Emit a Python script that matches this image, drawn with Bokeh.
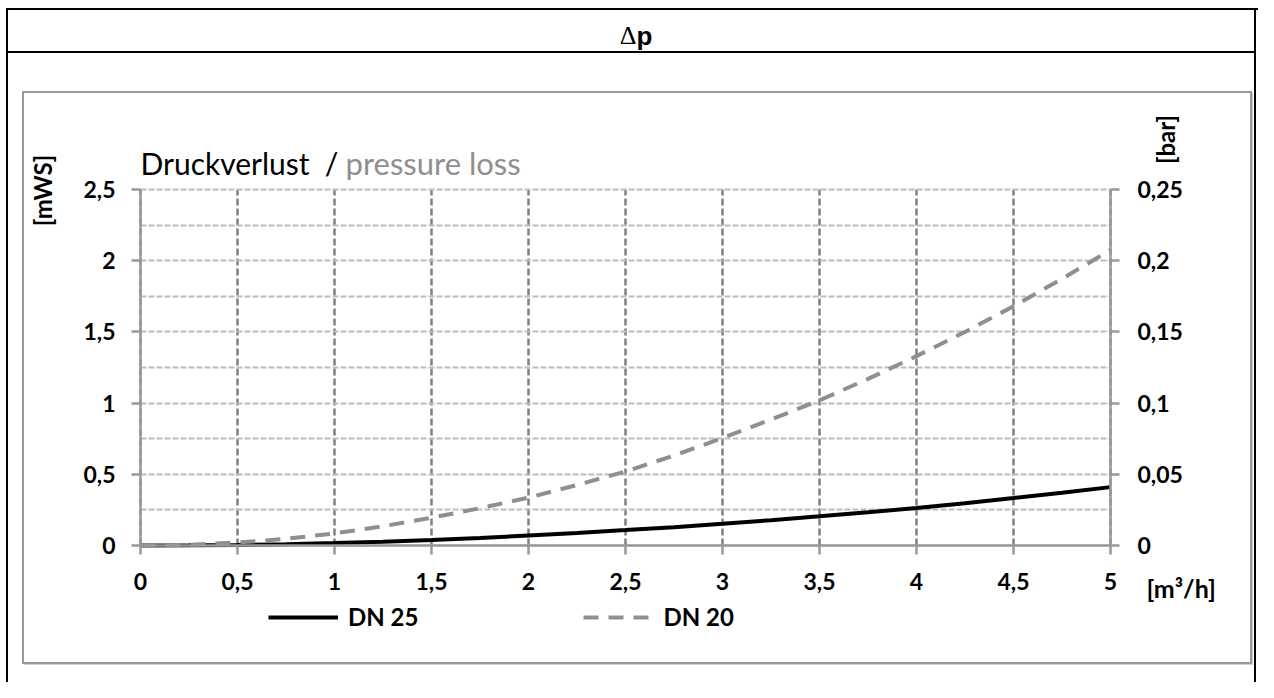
from bokeh.plotting import figure
from bokeh.models import (Range1d, LinearAxis, FixedTicker, SingleIntervalTicker, Label,
                          Legend, LegendItem)
from bokeh.embed import file_html
from bokeh.resources import INLINE

# ---- data ----
flow = [0, 0.25, 0.5, 0.75, 1, 1.25, 1.5, 1.75, 2, 2.25, 2.5, 2.75, 3, 3.25, 3.5,
        3.75, 4, 4.25, 4.5, 4.75, 5]
dn25 = [0, 0.001, 0.004, 0.009, 0.017, 0.026, 0.038, 0.052, 0.07, 0.088, 0.108, 0.129,
        0.152, 0.178, 0.205, 0.233, 0.263, 0.297, 0.333, 0.37, 0.41]
dn20 = [0, 0.005, 0.021, 0.047, 0.085, 0.135, 0.195, 0.262, 0.336, 0.425, 0.52, 0.632,
        0.755, 0.885, 1.02, 1.17, 1.33, 1.5, 1.68, 1.873, 2.075]

x_ticks = [0, 0.5, 1, 1.5, 2, 2.5, 3, 3.5, 4, 4.5, 5]
x_labels = ["0", "0,5", "1", "1,5", "2", "2,5", "3", "3,5", "4", "4,5", "5"]
yl_ticks = [0, 0.5, 1, 1.5, 2, 2.5]
yl_labels = ["0", "0,5", "1", "1,5", "2", "2,5"]
yr_ticks = [0, 0.05, 0.1, 0.15, 0.2, 0.25]
yr_labels = ["0", "0,05", "0,1", "0,15", "0,2", "0,25"]
series_names = ["DN 25", "DN 20"]

X_MAX, Y_MAX, BAR_MAX = 5, 2.5, 0.25

FONT = "Lato"
AX = "#999999"

W, H = 1258, 682
PL, PR, PT, PB = 140, 1110, 189, 545   # data area in canvas pixels

# the frame covers the whole canvas; map the data area onto its pixel box
xs = X_MAX / (PR - PL)
ys = Y_MAX / (PB - PT)
x_range = Range1d(-PL * xs, X_MAX + (W - PR) * xs)
y_range = Range1d(-(H - PB) * ys, Y_MAX + PT * ys)
bar_range = Range1d(y_range.start * BAR_MAX / Y_MAX, y_range.end * BAR_MAX / Y_MAX)

# page decoration: outer black frame, title divider, grey chart box (CSS layers)
rects = [  # (x, y, w, h, colour)
    (6, 8, 2, 700, "#000"), (6, 8, 1260, 2, "#000"), (1254, 8, 2, 700, "#000"),
    (6, 51, 1250, 2, "#000"),
    (22, 91, 2, 573, "#9a9a9a"), (22, 91, 1230, 2, "#9a9a9a"),
    (1250, 91, 2, 573, "#9a9a9a"), (22, 662, 1230, 2, "#9a9a9a"),
    (1252, 93, 1, 572, "#d0d0d0"), (24, 664, 1229, 1, "#d0d0d0"),
]
styles = {
    "background-image": ", ".join(f"linear-gradient({c},{c})" for *_, c in rects),
    "background-size": ", ".join(f"{w}px {h}px" for _, _, w, h, _ in rects),
    "background-position": ", ".join(f"{x}px {y}px" for x, y, *_ in rects),
    "background-repeat": "no-repeat",
}

p = figure(width=W, height=H, output_backend="svg", toolbar_location=None,
           x_range=x_range, y_range=y_range,
           min_border_left=0, min_border_right=0, min_border_top=0, min_border_bottom=0,
           x_axis_location=None, y_axis_location=None, styles=styles)
p.outline_line_color = None
p.background_fill_alpha = 0
p.border_fill_alpha = 0
p.extra_y_ranges = {"bar": bar_range}

def style_axis(ax, ticks, labels, standoff):
    ax.ticker = FixedTicker(ticks=ticks)
    ax.major_label_overrides = {t: l for t, l in zip(ticks, labels)}
    ax.axis_line_color = AX
    ax.axis_line_width = 2.5
    ax.major_tick_line_color = AX
    ax.major_tick_line_width = 2.5
    ax.major_tick_out = 9
    ax.major_tick_in = 0
    ax.minor_tick_line_color = None
    ax.major_label_text_font = FONT
    ax.major_label_text_font_style = "bold"
    ax.major_label_text_font_size = "23px"
    ax.major_label_text_color = "black"
    ax.major_label_standoff = standoff

xax = LinearAxis(fixed_location=0, bounds=(0, X_MAX))
style_axis(xax, x_ticks, x_labels, 18)
p.add_layout(xax, "below")
lax = LinearAxis(fixed_location=0, bounds=(0, Y_MAX))
style_axis(lax, yl_ticks, yl_labels, 16)
p.add_layout(lax, "left")
rax = LinearAxis(y_range_name="bar", fixed_location=X_MAX, bounds=(0, BAR_MAX))
style_axis(rax, yr_ticks, yr_labels, 18)
p.add_layout(rax, "right")

# grids
p.xgrid.ticker = SingleIntervalTicker(interval=0.5)
p.xgrid.bounds = (0, X_MAX)
p.xgrid.cross_bounds = (0, Y_MAX)
p.xgrid.grid_line_color = "#808080"
p.xgrid.grid_line_width = 2.5
p.xgrid.grid_line_dash = "7 3"
p.ygrid.ticker = SingleIntervalTicker(interval=0.25)
p.ygrid.bounds = (0, Y_MAX)
p.ygrid.cross_bounds = (0, X_MAX)
p.ygrid.grid_line_color = "#bdbdbd"
p.ygrid.grid_line_width = 2
p.ygrid.grid_line_dash = "6 2"

# lines
r25 = p.line(flow, dn25, line_color="black", line_width=4)
r20 = p.line(flow, dn20, line_color="#8f8f8f", line_width=4, line_dash="15 10")

legend = Legend(items=[LegendItem(label=series_names[0], renderers=[r25]),
                       LegendItem(label=series_names[1], renderers=[r20])],
                orientation="horizontal", location=(268, 51),
                glyph_width=70, label_standoff=10, spacing=165,
                padding=0, margin=0, border_line_color=None,
                background_fill_alpha=0,
                label_text_font=FONT, label_text_font_style="bold",
                label_text_font_size="24px", label_text_color="black")
p.add_layout(legend)

def clabel(x, y, text, size, color="black", style="normal", align="left",
           baseline="alphabetic", angle=0, font=FONT):
    p.add_layout(Label(x=x, y=y, x_units="canvas", y_units="canvas", text=text,
                       text_font=font, text_font_size=size, text_color=color,
                       text_font_style=style, text_align=align,
                       text_baseline=baseline, angle=angle))

clabel(636, 35, "Δ", "26px", font="Liberation Serif", align="right")
clabel(636, 35, "p", "26px", style="bold", font="Liberation Sans")
clabel(140, 162, "Druckverlust", "30px")
clabel(331, 162, "/", "30px", align="center")
clabel(345, 162, "pressure loss", "31px", color="#8f8f8f")
clabel(42, 190, "[mWS]", "24px", style="bold", align="center",
       baseline="middle", angle=1.5708)
clabel(1165, 139, "[bar]", "24px", style="bold", align="center",
       baseline="middle", angle=1.5708)
clabel(1146, 587, "[m³/h]", "25px", style="bold", baseline="middle")

open("out.html", "w").write(file_html(p, INLINE))
